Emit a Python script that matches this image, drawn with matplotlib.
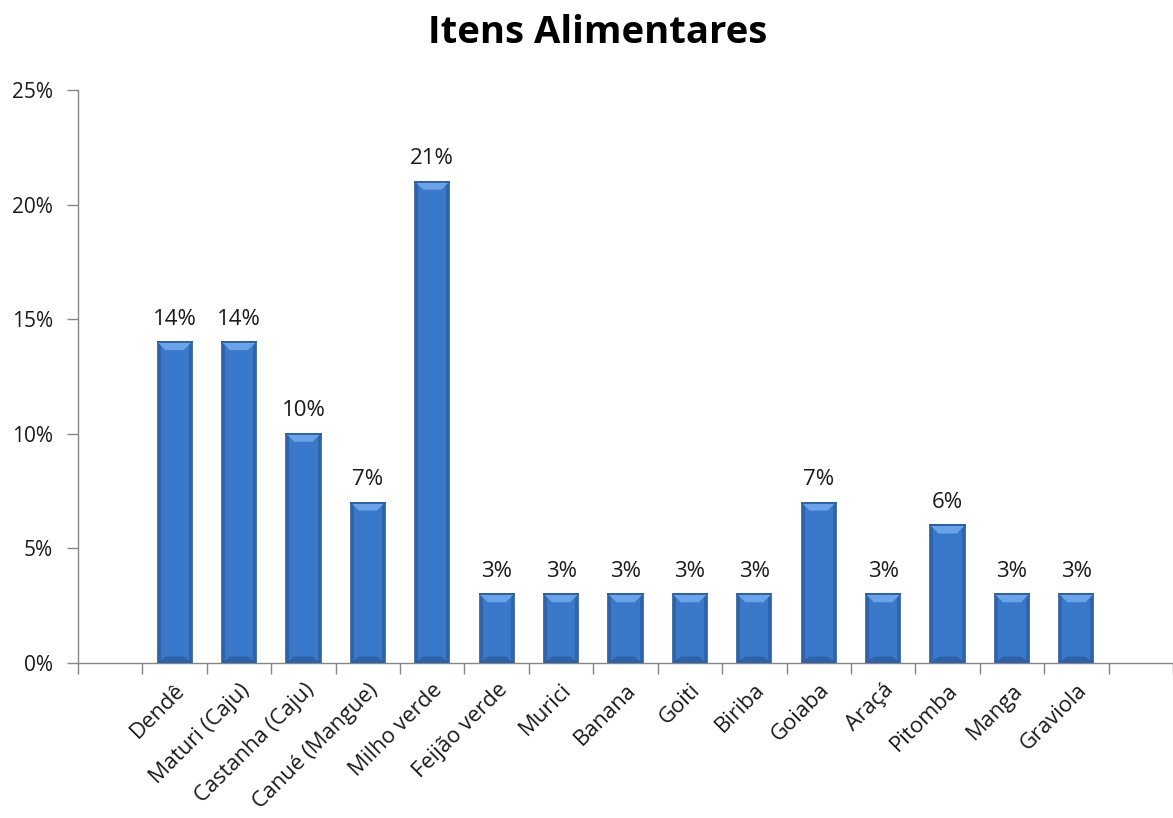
import matplotlib
matplotlib.use("Agg")
import matplotlib.pyplot as plt
from matplotlib.patches import Polygon
from matplotlib.ticker import FuncFormatter, FixedLocator
import matplotlib.transforms as mtransforms

categories = ["Dendê", "Maturi (Caju)", "Castanha (Caju)", "Canué (Mangue)",
              "Milho verde", "Feijão verde", "Murici", "Banana", "Goiti",
              "Biriba", "Goiaba", "Araçá", "Pitomba", "Manga", "Graviola"]
values = [0.14, 0.14, 0.10, 0.07, 0.21, 0.03, 0.03, 0.03, 0.03, 0.03,
          0.07, 0.03, 0.06, 0.03, 0.03]
labels = ["14%", "14%", "10%", "7%", "21%", "3%", "3%", "3%", "3%", "3%",
          "7%", "3%", "6%", "3%", "3%"]
yticks = [0, 0.05, 0.10, 0.15, 0.20, 0.25]

plt.rcParams['font.family'] = ['Open Sans', 'DejaVu Sans']

fig = plt.figure(figsize=(11.73, 8.18), dpi=100)
ax = fig.add_axes([78/1173, 1-663/818, (1173-78)/1173, (663-90)/818])

x = list(range(len(categories)))
w = 0.53
bars = ax.bar(x, values, width=w, color="#3a78c9", edgecolor="#2b5a97",
              linewidth=1.2, zorder=2)

ax.set_xlim(-1.5, 15.5)
ax.set_ylim(0, 0.25)

# bevel effects in data units derived from axis scale
fig.canvas.draw()
inv = ax.transData.inverted()
def px_to_data(dx, dy):
    p0 = inv.transform((0, 0))
    p1 = inv.transform((dx, dy))
    return p1[0] - p0[0], p1[1] - p0[1]
ddx, ddy = px_to_data(8, 8)
sx, _ = px_to_data(3, 0)
for xi, v in zip(x, values):
    l, r = xi - w/2, xi + w/2
    ax.add_patch(Polygon([(l, 0), (l + sx, 0), (l + sx, v), (l, v)],
                         closed=True, facecolor="#2f64ab", edgecolor="none", zorder=3))
    ax.add_patch(Polygon([(r - sx, 0), (r, 0), (r, v), (r - sx, v)],
                         closed=True, facecolor="#2f64ab", edgecolor="none", zorder=3))
    ax.add_patch(Polygon([(l, 0), (r, 0), (r - ddx, ddy*0.8), (l + ddx, ddy*0.8)],
                         closed=True, facecolor="#2e61a6", edgecolor="none", zorder=3))
    ax.add_patch(Polygon([(l, v), (r, v), (r - ddx, v - ddy), (l + ddx, v - ddy)],
                         closed=True, facecolor="#6aa3ea", edgecolor="none", zorder=3))
    ax.plot([l, r], [v, v], color="#2b5a97", lw=1.2, zorder=4)

for xi, v, lab in zip(x, values, labels):
    ax.annotate(lab, (xi, v), xytext=(0, 9), textcoords="offset points",
                ha="center", va="bottom", fontsize=16, color="#1a1a1a")

ax.set_yticks(yticks)
ax.yaxis.set_major_formatter(FuncFormatter(lambda v, p: f"{round(v*100)}%"))
ax.set_xticks(x)
ax.set_xticklabels(categories, rotation=45, ha="right", rotation_mode="anchor",
                   fontsize=15.8, color="#1a1a1a")
shift = mtransforms.ScaledTranslation(6/100, 0, fig.dpi_scale_trans)
for t in ax.get_xticklabels():
    t.set_transform(t.get_transform() + shift)
ax.xaxis.set_minor_locator(FixedLocator([i - 0.5 for i in range(-1, 17)]))
ax.tick_params(axis="x", which="major", length=0, pad=12)
ax.tick_params(axis="x", which="minor", length=8, color="#868686", width=1)
ax.tick_params(axis="y", length=8, color="#868686", width=1, pad=10,
               labelsize=15, labelcolor="#1a1a1a")

for s in ["top", "right"]:
    ax.spines[s].set_visible(False)
for s in ["left", "bottom"]:
    ax.spines[s].set_color("#868686")
    ax.spines[s].set_linewidth(1)

fig.text(598/1173, 1-33/818, "Itens Alimentares", ha="center", va="center",
         fontsize=27.5, fontweight="bold", color="#000000")

fig.savefig("out.png", dpi=100)
